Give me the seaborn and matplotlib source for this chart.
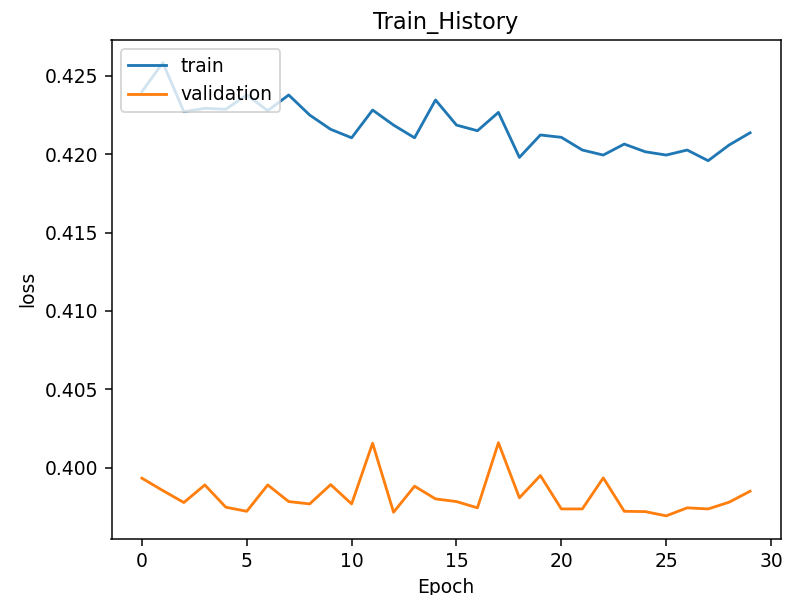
import numpy as np
import pandas as pd
import matplotlib
matplotlib.use("Agg")
import matplotlib.pyplot as plt
import seaborn as sns

# ── data ──
epochs = list(range(30))
train_loss = [0.42398, 0.42583, 0.42270, 0.42292, 0.42286, 0.42377, 0.42277, 0.42377,
              0.42249, 0.42158, 0.42104, 0.42281, 0.42185, 0.42104, 0.42345, 0.42185,
              0.42149, 0.42266, 0.41979, 0.42122, 0.42107, 0.42026, 0.41994, 0.42064,
              0.42015, 0.41994, 0.42026, 0.41958, 0.42058, 0.42136]
val_loss = [0.39934, 0.39855, 0.39779, 0.39891, 0.39749, 0.39723, 0.39891, 0.39785,
            0.39770, 0.39893, 0.39770, 0.40157, 0.39717, 0.39883, 0.39802, 0.39785,
            0.39745, 0.40160, 0.39809, 0.39951, 0.39738, 0.39738, 0.39936, 0.39723,
            0.39721, 0.39694, 0.39745, 0.39738, 0.39781, 0.39851]

df = pd.DataFrame({
    "Epoch": epochs * 2,
    "loss": train_loss + val_loss,
    "set": ["train"] * len(epochs) + ["validation"] * len(epochs),
})

dpi = 135
fig = plt.figure(figsize=(798 / dpi, 595 / dpi), dpi=dpi)
ax = fig.add_axes([111.5 / 798, 1 - 538.5 / 595, (780.5 - 111.5) / 798, (538.5 - 40) / 595])

sns.lineplot(data=df, x="Epoch", y="loss", hue="set",
             palette=["#1f77b4", "#ff7f0e"], ax=ax)

ax.set_title("Train_History")
ax.set_xlabel("Epoch")
ax.set_ylabel("loss")
ax.legend(loc="upper left")

fig.savefig("out.png", dpi=dpi)
